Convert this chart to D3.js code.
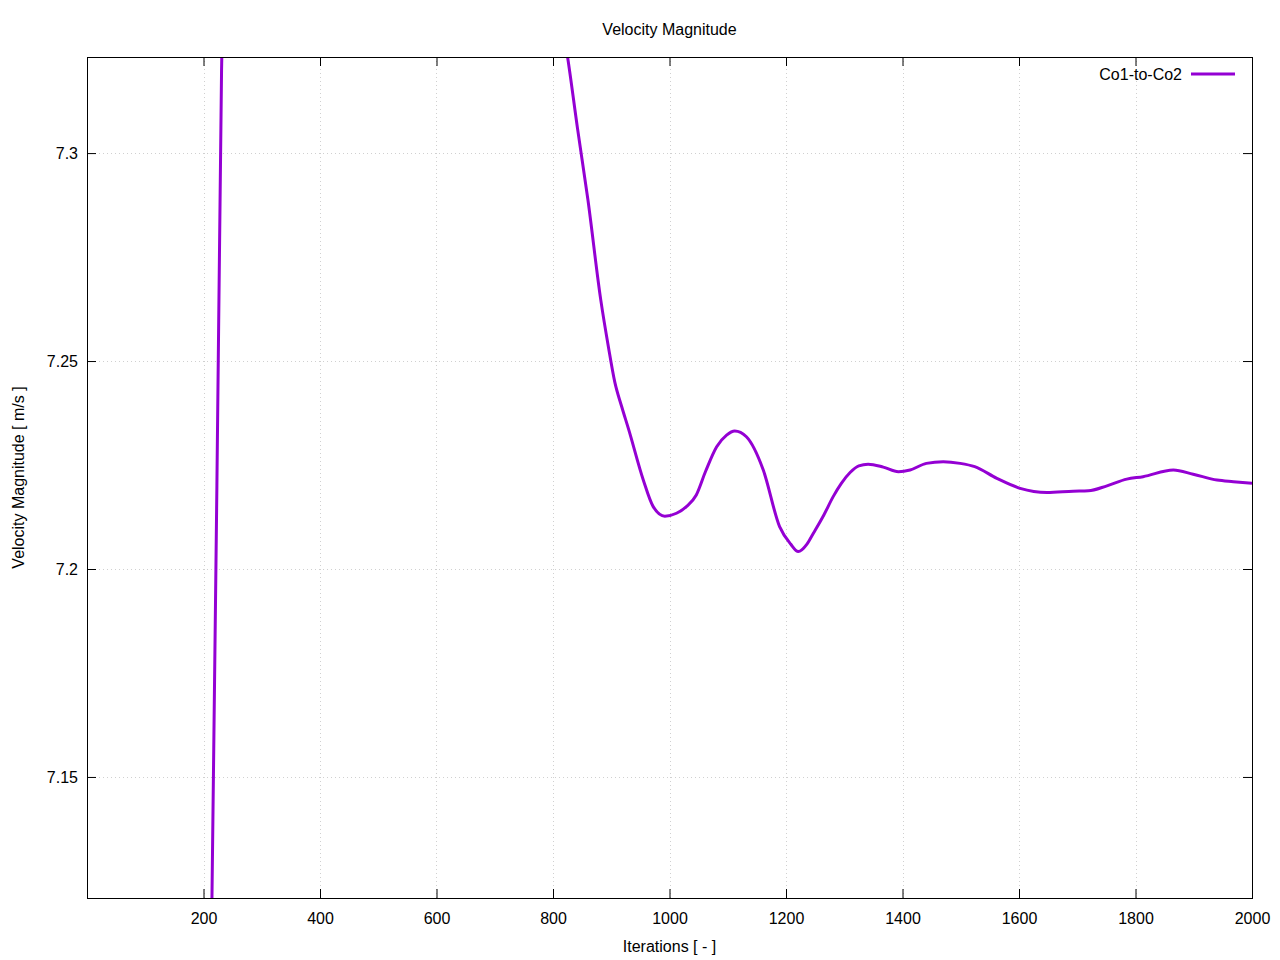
<!DOCTYPE html>
<html>
<head>
<meta charset="utf-8">
<script src="https://cdn.jsdelivr.net/npm/d3@7"></script>
<style>
  html, body { margin: 0; padding: 0; background: #fff; }
  svg text { font-family: "Liberation Sans", Arial, sans-serif; fill: #000; }
</style>
</head>
<body>
<svg id="chart" width="1280" height="960"></svg>
<script>
// ---- data ----
const iterations = [200, 206, 214, 223, 231, 245, 270, 330, 420, 520, 620, 700, 760, 800, 825, 842, 860, 882, 895, 906, 918, 930, 955, 972, 992, 1012, 1029, 1046, 1062, 1081, 1098, 1112, 1132, 1161, 1189, 1208, 1221, 1236, 1247, 1265, 1281, 1295, 1310, 1325, 1341, 1367, 1393, 1413, 1441, 1470, 1499, 1524, 1562, 1602, 1648, 1693, 1719, 1751, 1785, 1813, 1865, 1899, 1940, 1968, 2000];
const velocity   = [6.950, 7.020, 7.115, 7.220, 7.320, 7.420, 7.520, 7.620, 7.650, 7.600, 7.500, 7.420, 7.370, 7.342, 7.3231, 7.3060, 7.2887, 7.2647, 7.2535, 7.2450, 7.2390, 7.2335, 7.2214, 7.2150, 7.2127, 7.2134, 7.2150, 7.2178, 7.2235, 7.2294, 7.2322, 7.2332, 7.2318, 7.2238, 7.2102, 7.2060, 7.2042, 7.2060, 7.2086, 7.2130, 7.2174, 7.2206, 7.2232, 7.2248, 7.2252, 7.2245, 7.2234, 7.2238, 7.2254, 7.2258, 7.2254, 7.2246, 7.2218, 7.2194, 7.2184, 7.2187, 7.2188, 7.2200, 7.2216, 7.2222, 7.2238, 7.2228, 7.2214, 7.2210, 7.2206];
const xTicks = [200, 400, 600, 800, 1000, 1200, 1400, 1600, 1800, 2000];
const yTicks = [7.15, 7.2, 7.25, 7.3];
const seriesName = "Co1-to-Co2";
const titleText = "Velocity Magnitude";
const xLabel = "Iterations [ - ]";
const yLabel = "Velocity Magnitude [ m/s ]";

// ---- layout ----
const L = 87, R = 1252, T = 57, B = 898;
const svg = d3.select("#chart");
const x = d3.scaleLinear().domain([0, 2000]).range([L, R]);
const y = d3.scaleLinear().domain([7.1209, 7.3231]).range([B, T]);
const color = "#9400d3";
const fs = 16;

// grid
const grid = svg.append("g");
grid.selectAll(".gx").data(xTicks.filter(d => d < 2000)).enter().append("line")
  .attr("x1", d => Math.round(x(d)) + 0.5).attr("x2", d => Math.round(x(d)) + 0.5)
  .attr("y1", T).attr("y2", B)
  .attr("stroke", "#d0d0d0").attr("stroke-width", 1).attr("stroke-dasharray", "1,3");
grid.selectAll(".gy").data(yTicks).enter().append("line")
  .attr("y1", d => Math.round(y(d)) + 0.5).attr("y2", d => Math.round(y(d)) + 0.5)
  .attr("x1", L).attr("x2", R)
  .attr("stroke", "#d0d0d0").attr("stroke-width", 1).attr("stroke-dasharray", "1,3");

// data line
svg.append("defs").append("clipPath").attr("id", "clip")
  .append("rect").attr("x", L).attr("y", T).attr("width", R - L).attr("height", B - T);
const pts = iterations.map((d, i) => [d, velocity[i]]);
svg.append("path").datum(pts)
  .attr("clip-path", "url(#clip)")
  .attr("fill", "none").attr("stroke", color).attr("stroke-width", 3)
  .attr("stroke-linejoin", "round")
  .attr("d", d3.line().x(d => x(d[0])).y(d => y(d[1])).curve(d3.curveMonotoneX));

// axes (ticks inward, mirrored)
const tl = 9;
const axB = svg.append("g").attr("transform", `translate(0,${B})`)
  .call(d3.axisBottom(x).tickValues(xTicks).tickSize(-tl).tickPadding(15).tickFormat(d3.format("d")));
const axT = svg.append("g").attr("transform", `translate(0,${T})`)
  .call(d3.axisTop(x).tickValues(xTicks).tickSize(-tl).tickFormat(""));
const axL = svg.append("g").attr("transform", `translate(${L},0)`)
  .call(d3.axisLeft(y).tickValues(yTicks).tickSize(-tl).tickPadding(9).tickFormat(d => String(d)));
const axR = svg.append("g").attr("transform", `translate(${R},0)`)
  .call(d3.axisRight(y).tickValues(yTicks).tickSize(-tl).tickFormat(""));
[axB, axT, axL, axR].forEach(a => {
  a.select(".domain").remove();
  a.selectAll("line").attr("stroke", "#000").attr("stroke-width", 1);
  a.selectAll("text").style("font-size", fs + "px").attr("fill", "#000");
});
axB.selectAll("text").attr("dy", "0.71em");

// border
svg.append("rect").attr("x", L + 0.5).attr("y", T + 0.5).attr("width", R - L).attr("height", B - T)
  .attr("fill", "none").attr("stroke", "#000").attr("stroke-width", 1);

// titles
svg.append("text").attr("x", (L + R) / 2).attr("y", 34.5).attr("text-anchor", "middle")
  .style("font-size", fs + "px").text(titleText);
svg.append("text").attr("x", (L + R) / 2).attr("y", 952).attr("text-anchor", "middle")
  .style("font-size", fs + "px").text(xLabel);
svg.append("text").attr("transform", `translate(23.5,${(T + B) / 2}) rotate(-90)`)
  .attr("text-anchor", "middle").style("font-size", fs + "px").text(yLabel);

// legend
svg.append("text").attr("x", 1182).attr("y", 74).attr("dy", "0.35em").attr("text-anchor", "end")
  .style("font-size", fs + "px").text(seriesName);
svg.append("line").attr("x1", 1191).attr("x2", 1235).attr("y1", 74).attr("y2", 74)
  .attr("stroke", color).attr("stroke-width", 3);
</script>
</body>
</html>
